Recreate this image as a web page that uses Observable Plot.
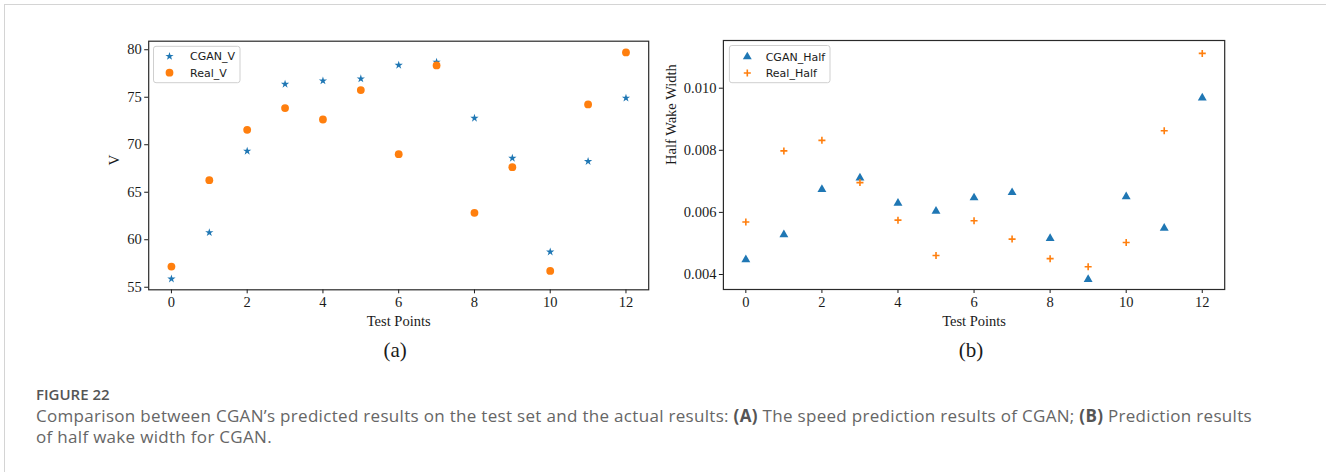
<!DOCTYPE html>
<html>
<head>
<meta charset="utf-8">
<script src="https://cdn.jsdelivr.net/npm/d3@7"></script>
<script src="https://cdn.jsdelivr.net/npm/@observablehq/plot@0.6"></script>
<style>
  body { margin: 0; background: #fff; }
  #page { position: relative; width: 1326px; height: 472px; overflow: hidden; background: #fff; }
  #edge { position: absolute; left: 4px; top: 4px; right: -4px; bottom: -4px;
          border-top: 1.5px solid #d4d4d4; border-left: 1.5px solid #d4d4d4; }
  .panel { position: absolute; top: 0; }
  .panel svg { overflow: visible; }
  #fig { position: absolute; left: 36px; top: 386px; font: 600 15px/17px "Open Sans", sans-serif; color: #555; }
  #cap { position: absolute; left: 36px; top: 405px; font: 400 17px/21px "Open Sans", sans-serif;
         color: #666; white-space: nowrap; }
  #cap b { font-weight: 700; color: #555; }
</style>
</head>
<body>
<div id="page">
  <div id="edge"></div>
  <div class="panel" id="panelA" style="left:0px"></div>
  <div class="panel" id="panelB" style="left:650px"></div>
  <div id="fig">FIGURE 22</div>
  <div id="cap"><span id="capLine1">Comparison between CGAN’s predicted results on the test set and the actual results: <b>(A)</b> The speed prediction results of CGAN; <b>(B)</b> Prediction results</span><br>of half wake width for CGAN.</div>
</div>
<script>
// Test point index shared by both panels
const testPoints = [0, 1, 2, 3, 4, 5, 6, 7, 8, 9, 10, 11, 12];

// Panel (a): speed V
const cganV = [55.88, 60.76, 69.33, 76.38, 76.73, 76.95, 78.38, 78.70, 72.80, 68.59, 58.72, 68.24, 74.91];
const realV = [57.18, 66.27, 71.57, 73.86, 72.66, 75.75, 69.01, 78.35, 62.83, 67.64, 56.72, 74.24, 79.72];

// Panel (b): half wake width
const cganHalf = [0.00448, 0.00528, 0.00674, 0.00711, 0.00630, 0.00604, 0.00647, 0.00664, 0.00516, 0.00384, 0.00651, 0.00549, 0.00969];
const realHalf = [0.00569, 0.00798, 0.00832, 0.00696, 0.00575, 0.00461, 0.00573, 0.00514, 0.00451, 0.00425, 0.00503, 0.00863, 0.01112];

// Tick values
const xTicks = [0, 2, 4, 6, 8, 10, 12];
const vTicks = [55, 60, 65, 70, 75, 80];
const halfTicks = [0.004, 0.006, 0.008, 0.010];

const BLUE = "#1f77b4";
const ORANGE = "#ff7f0e";

const rowsV = testPoints.map((t, i) => ({t, cgan: cganV[i], real: realV[i]}));
const rowsH = testPoints.map((t, i) => ({t, cgan: cganHalf[i], real: realHalf[i]}));

const baseStyle = {
  fontFamily: "'Liberation Serif', 'Times New Roman', serif",
  fontSize: "14.5px",
  color: "#1a1a1a",
  background: "transparent",
  overflow: "visible"
};

const R_STAR = 2.6, R_CIRCLE = 3.9, R_TRI = 3.3, R_PLUS = 2.4;

// Legend box in the upper-left corner of an axes, drawn into the plot's SVG
function addLegend(svg, box, items) {
  const g = d3.select(svg).append("g").attr("text-anchor", "start");
  g.append("rect")
    .attr("x", box.x).attr("y", box.y).attr("width", box.w).attr("height", box.h)
    .attr("rx", 2.5).attr("fill", "white").attr("fill-opacity", 0.85)
    .attr("stroke", "#cfcfcf").attr("stroke-width", 1);
  items.forEach((it, i) => {
    const cy = box.row0 + i * box.step;
    const size = Math.PI * it.r * it.r;
    g.append("path")
      .attr("transform", `translate(${box.mx},${cy})`)
      .attr("d", d3.symbol(it.type, size)())
      .attr("fill", it.stroke ? "none" : it.color)
      .attr("stroke", it.stroke ? it.color : "none")
      .attr("stroke-width", it.stroke ? 1.6 : 0);
    g.append("text")
      .attr("x", box.tx).attr("y", cy).attr("dy", "0.36em")
      .attr("text-anchor", "start")
      .attr("fill", "#1a1a1a")
      .style("font", "11px 'DejaVu Sans', sans-serif")
      .text(it.label);
  });
}

// ---- Panel (a)
const plotA = Plot.plot({
  width: 680, height: 370,
  marginLeft: 148.2, marginRight: 31.8, marginTop: 40.7, marginBottom: 80.7,
  style: baseStyle,
  x: {domain: [-0.6, 12.6], ticks: xTicks, tickSize: 4, tickPadding: 3, label: null},
  y: {domain: [54.73, 80.9], ticks: vTicks, tickSize: 4, tickPadding: 3, label: null},
  marks: [
    Plot.frame({stroke: "#2a2a2a", strokeWidth: 1.2}),
    Plot.dot(rowsV, {x: "t", y: "cgan", symbol: "star", r: R_STAR, fill: BLUE, stroke: "none"}),
    Plot.dot(rowsV, {x: "t", y: "real", symbol: "circle", r: R_CIRCLE, fill: ORANGE, stroke: "none"}),
    Plot.text(["V"], {frameAnchor: "left", dx: -35, rotate: -90, text: d => d, fontSize: 15, lineAnchor: "middle"}),
    Plot.text(["Test Points"], {frameAnchor: "bottom", dy: 31.7, text: d => d, fontSize: 14.5, lineAnchor: "middle"}),
    Plot.text(["(a)"], {frameAnchor: "bottom", dy: 60.7, dx: -3.6, text: d => d, fontSize: 21, lineAnchor: "middle"})
  ]
});
addLegend(plotA, {x: 153.5, y: 46.3, w: 86.5, h: 36.4, mx: 169.5, tx: 190, row0: 56.3, step: 16.4}, [
  {type: d3.symbolStar, r: R_STAR, color: BLUE, label: "CGAN_V"},
  {type: d3.symbolCircle, r: R_CIRCLE, color: ORANGE, label: "Real_V"}
]);
document.getElementById("panelA").appendChild(plotA);

// ---- Panel (b)
const plotB = Plot.plot({
  width: 676, height: 370,
  marginLeft: 72.9, marginRight: 101.8, marginTop: 40, marginBottom: 81,
  style: baseStyle,
  x: {domain: [-0.59, 12.59], ticks: xTicks, tickSize: 4, tickPadding: 3, label: null},
  y: {domain: [0.003517, 0.011536], ticks: halfTicks, tickFormat: ".3f", tickSize: 4, tickPadding: 3, label: null},
  marks: [
    Plot.frame({stroke: "#2a2a2a", strokeWidth: 1.2}),
    Plot.dot(rowsH, {x: "t", y: "cgan", symbol: "triangle", r: R_TRI, fill: BLUE, stroke: "none"}),
    Plot.dot(rowsH, {x: "t", y: "real", symbol: "plus", r: R_PLUS, fill: "none", stroke: ORANGE, strokeWidth: 1.6}),
    Plot.text(["Half Wake Width"], {frameAnchor: "left", dx: -52, rotate: -90, text: d => d, fontSize: 14.5, lineAnchor: "middle"}),
    Plot.text(["Test Points"], {frameAnchor: "bottom", dy: 32, text: d => d, fontSize: 14.5, lineAnchor: "middle"}),
    Plot.text(["(b)"], {frameAnchor: "bottom", dy: 61, dx: -3, text: d => d, fontSize: 21, lineAnchor: "middle"})
  ]
});
addLegend(plotB, {x: 79.4, y: 45.5, w: 100.6, h: 37.2, mx: 97.3, tx: 115.7, row0: 56.8, step: 16.2}, [
  {type: d3.symbolTriangle, r: R_TRI, color: BLUE, label: "CGAN_Half"},
  {type: d3.symbolPlus, r: R_PLUS, color: ORANGE, label: "Real_Half", stroke: true}
]);
document.getElementById("panelB").appendChild(plotB);

// Spread the caption so its first line runs to the right-hand edge of panel (b)
(function fitCaption() {
  const line = document.getElementById("capLine1");
  const target = 1216;
  const chars = line.textContent.length;
  const w = line.getBoundingClientRect().width;
  const spacing = (target - w) / chars;
  document.getElementById("cap").style.letterSpacing = spacing.toFixed(3) + "px";
})();
</script>
</body>
</html>
